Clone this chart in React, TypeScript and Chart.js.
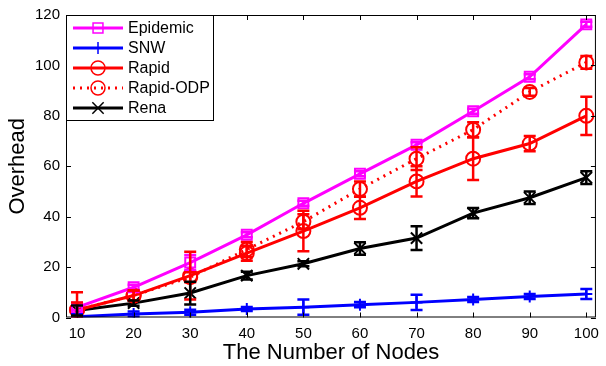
import React, { useEffect, useRef } from "react";
import { Chart, registerables } from "chart.js";
import { drawPoint } from "chart.js/helpers";

Chart.register(...registerables);

const nodes = [10, 20, 30, 40, 50, 60, 70, 80, 90, 100];
const xTicks = [10, 20, 30, 40, 50, 60, 70, 80, 90, 100];
const yTicks = [0, 20, 40, 60, 80, 100, 120];

const epidemic = [4, 12, 21.8, 32.8, 45.3, 57, 68.5, 81.8, 95.5, 116.3];
const epidemicErr = [1, 1, 3, 1, 1, 1, 1, 1, 1, 1];
const snw = [0.3, 1.4, 2.1, 3.4, 4.1, 5.1, 6, 7.1, 8.3, 9.3];
const snwErr = [1, 1, 1, 0.8, 3, 1, 3, 1, 1, 2];
const rapid = [3, 8.7, 16.6, 25.5, 34.3, 43.5, 54, 63, 69, 80];
const rapidErr = [7, 2, 9.5, 3, 8, 4.4, 6, 8.5, 3, 7.6];
const rapidOdp = [3, 8.7, 16, 27, 38, 51, 63, 74.5, 89.5, 101.2];
const rapidOdpErr = [3, 2, 2, 3, 3, 3, 4.5, 3, 1.5, 2.5];
const rena = [2.8, 5.7, 9.7, 16.6, 21.3, 27.4, 31.5, 41.4, 47.5, 55.5];
const renaErr = [2, 1, 4.5, 1.5, 1, 2.5, 4.7, 2, 2.5, 2.5];

const FONT = "'Liberation Sans', Arial, sans-serif";

const framePlugin = {
  id: "frame",
  afterDatasetsDraw(chart: any) {
    const { ctx, chartArea } = chart;
    const { left, right, top, bottom } = chartArea;
    const xs = chart.scales.x;
    const ys = chart.scales.y;
    ctx.save();
    ctx.beginPath();
    ctx.rect(left, top, right - left, bottom - top);
    ctx.clip();
    chart.data.datasets.forEach((ds: any) => {
      const errs: number[] = ds.errors || [];
      const vals: number[] = ds.values || [];
      ctx.strokeStyle = ds.borderColor;
      ctx.lineWidth = 2.5;
      ctx.setLineDash([]);
      vals.forEach((v: number, j: number) => {
        const e = errs[j] || 0;
        const px = xs.getPixelForValue(nodes[j]);
        const p1 = ys.getPixelForValue(v + e);
        const p2 = ys.getPixelForValue(v - e);
        ctx.beginPath();
        ctx.moveTo(px, p1);
        ctx.lineTo(px, p2);
        ctx.moveTo(px - 6, p1);
        ctx.lineTo(px + 6, p1);
        ctx.moveTo(px - 6, p2);
        ctx.lineTo(px + 6, p2);
        ctx.stroke();
      });
    });
    ctx.restore();
  },
  afterDraw(chart: any) {
    const { ctx, chartArea } = chart;
    const { left, right, top, bottom } = chartArea;
    const xs = chart.scales.x;
    const ys = chart.scales.y;
    ctx.save();
    ctx.strokeStyle = "#000";
    ctx.lineWidth = 1;
    ctx.setLineDash([]);
    ctx.strokeRect(left + 0.5, top + 0.5, right - left - 1, bottom - top - 1);
    ctx.beginPath();
    xTicks.forEach((t) => {
      const px = Math.round(xs.getPixelForValue(t)) + 0.5;
      ctx.moveTo(px, bottom);
      ctx.lineTo(px, bottom - 5);
      ctx.moveTo(px, top);
      ctx.lineTo(px, top + 5);
    });
    yTicks.forEach((t) => {
      const py = Math.round(ys.getPixelForValue(t)) + 0.5;
      ctx.moveTo(left, py);
      ctx.lineTo(left + 5, py);
      ctx.moveTo(right, py);
      ctx.lineTo(right - 5, py);
    });
    ctx.stroke();

    // legend
    const bx = left;
    const by = top;
    const bw = 147;
    const bh = 105;
    ctx.fillStyle = "#fff";
    ctx.fillRect(bx, by, bw, bh);
    ctx.strokeRect(bx + 0.5, by + 0.5, bw, bh);
    ctx.font = "16px " + FONT;
    ctx.textBaseline = "middle";
    chart.data.datasets.forEach((ds: any, i: number) => {
      const ry = by + 13 + i * 20;
      ctx.save();
      ctx.strokeStyle = ds.borderColor;
      ctx.lineWidth = 3;
      ctx.setLineDash(ds.borderDash || []);
      ctx.beginPath();
      ctx.moveTo(bx + 7, ry);
      ctx.lineTo(bx + 57, ry);
      ctx.stroke();
      ctx.setLineDash([]);
      ctx.lineWidth = 1.5;
      ctx.fillStyle = "rgba(0,0,0,0)";
      drawPoint(
        ctx,
        { pointStyle: ds.pointStyle, radius: ds.pointRadius, borderWidth: 1.5, rotation: 0 },
        bx + 32,
        ry
      );
      ctx.restore();
      ctx.fillStyle = "#000";
      ctx.fillText(ds.label, bx + 62, ry + 1);
    });
    ctx.restore();
  },
};

export default function App() {
  const ref = useRef<HTMLCanvasElement>(null);
  useEffect(() => {
    const mk = (label: string, data: number[], errors: number[], color: string, style: string, r: number, dash?: number[]) => ({
      label,
      data: data.map((v, i) => ({ x: nodes[i], y: v })),
      values: data,
      errors,
      borderColor: color,
      backgroundColor: "transparent",
      borderWidth: 3,
      borderDash: dash || [],
      pointStyle: style,
      pointRadius: r,
      pointBorderWidth: 2,
      pointBorderColor: color,
      pointBackgroundColor: "transparent",
      tension: 0,
    });
    const datasets: any[] = [
      mk("Epidemic", epidemic, epidemicErr, "#ff00ff", "rect", 7),
      mk("SNW", snw, snwErr, "#0000ff", "cross", 6),
      mk("Rapid", rapid, rapidErr, "#ff0000", "circle", 7),
      mk("Rapid-ODP", rapidOdp, rapidOdpErr, "#ff0000", "circle", 7, [2, 5]),
      mk("Rena", rena, renaErr, "#000000", "crossRot", 8),
    ];
    const chart = new Chart(ref.current!, {
      type: "line",
      data: { datasets },
      options: {
        responsive: false,
        animation: false,
        layout: { padding: { top: 13, right: 3, left: 0, bottom: 0 } },
        plugins: { legend: { display: false }, tooltip: { enabled: false } },
        scales: {
          x: {
            type: "linear",
            min: 8.05,
            max: 101.7,
            afterBuildTicks: (s: any) => {
              s.ticks = xTicks.map((v) => ({ value: v }));
            },
            afterFit: (s: any) => {
              s.height = 48.5;
            },
            grid: { display: false, drawTicks: false },
            border: { display: false },
            ticks: { color: "#000", font: { size: 15, family: FONT }, padding: 7, maxRotation: 0 },
            title: { display: true, text: "The Number of Nodes", color: "#000", font: { size: 22, family: FONT }, padding: 0 },
          },
          y: {
            type: "linear",
            min: 0,
            max: 120,
            afterBuildTicks: (s: any) => {
              s.ticks = yTicks.map((v) => ({ value: v }));
            },
            afterFit: (s: any) => {
              s.width = 66;
            },
            grid: { display: false, drawTicks: false },
            border: { display: false },
            ticks: { color: "#000", font: { size: 15, family: FONT }, padding: 6 },
            title: { display: true, text: "Overhead", color: "#000", font: { size: 22, family: FONT }, padding: { top: 5, bottom: 0 } },
          },
        },
      },
      plugins: [framePlugin],
    } as any);
    return () => chart.destroy();
  }, []);
  return (
    <div style={{ position: "absolute", left: 0, top: 0, width: 606, height: 366, background: "#fff" }}>
      <canvas ref={ref} width={606} height={366} />
    </div>
  );
}
